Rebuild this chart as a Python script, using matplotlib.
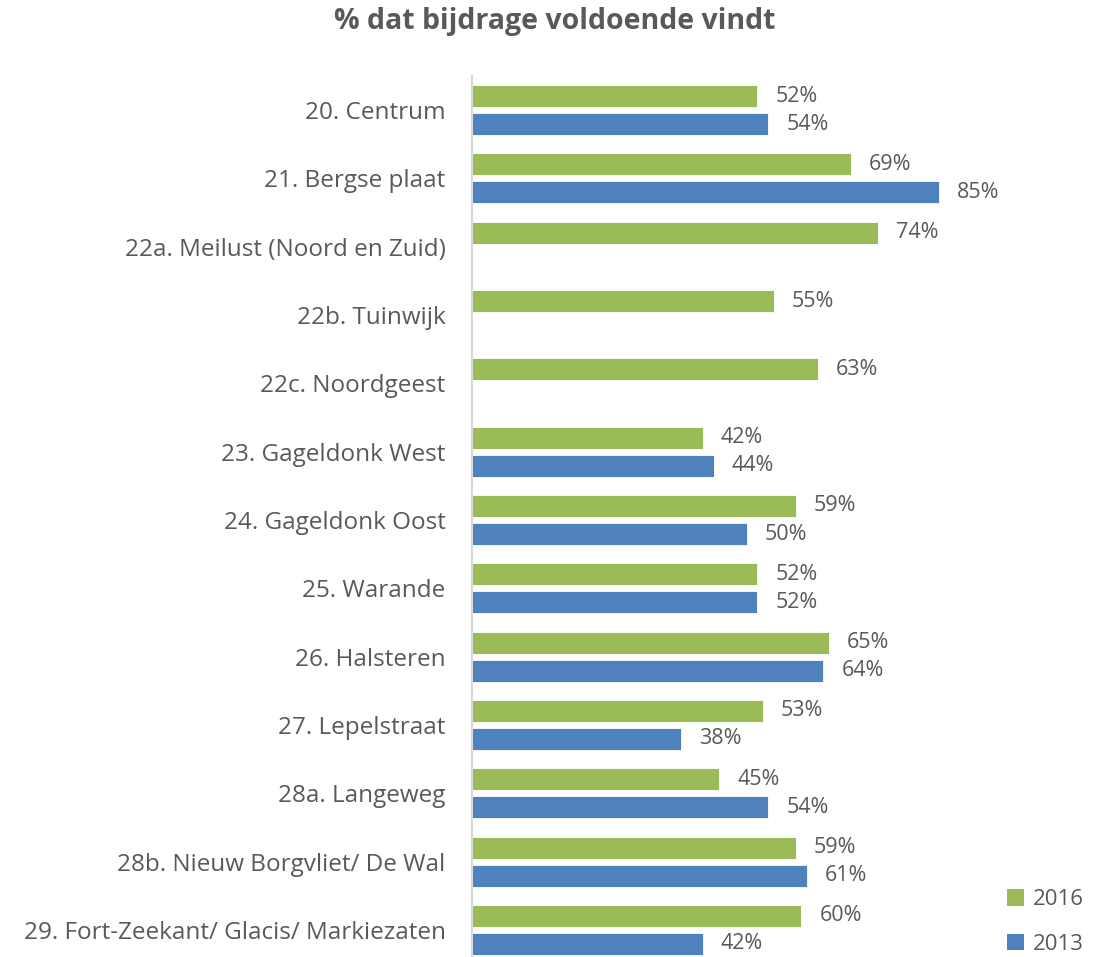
import matplotlib
matplotlib.use("Agg")
import matplotlib.pyplot as plt
import numpy as np
from matplotlib.patches import Patch

categories = [
    "20. Centrum",
    "21. Bergse plaat",
    "22a. Meilust (Noord en Zuid)",
    "22b. Tuinwijk",
    "22c. Noordgeest",
    "23. Gageldonk West",
    "24. Gageldonk Oost",
    "25. Warande",
    "26. Halsteren",
    "27. Lepelstraat",
    "28a. Langeweg",
    "28b. Nieuw Borgvliet/ De Wal",
    "29. Fort-Zeekant/ Glacis/ Markiezaten",
]
values_2016 = [52, 69, 74, 55, 63, 42, 59, 52, 65, 53, 45, 59, 60]
values_2013 = [54, 85, None, None, None, 44, 50, 52, 64, 38, 54, 61, 42]

GREEN = "#9BBB59"
BLUE = "#4F81BD"
TEXT = "#595959"
FONT = ["Open Sans", "DejaVu Sans"]

plt.rcParams["font.family"] = FONT

fig = plt.figure(figsize=(10.95, 9.57), dpi=100)
W, H = 1095, 957
top_px, bottom_px = 76, 964
left_px = 472
ax = fig.add_axes([left_px / W, 1 - bottom_px / H, 549 / W, (bottom_px - top_px) / H])

n = len(categories)
y = np.arange(n)
off = 0.205
h = 0.322

for i in range(n):
    v16 = values_2016[i]
    v13 = values_2013[i]
    if v16 is not None:
        ax.barh(y[i] - off, v16 / 100, height=h, color=GREEN, edgecolor="white", linewidth=0.6)
        ax.annotate(f"{v16}%", (v16 / 100, y[i] - off), xytext=(13, 0), textcoords="offset points",
                    va="center", ha="left", fontsize=15.5, color=TEXT)
    if v13 is not None:
        ax.barh(y[i] + off, v13 / 100, height=h, color=BLUE, edgecolor="white", linewidth=0.6)
        ax.annotate(f"{v13}%", (v13 / 100, y[i] + off), xytext=(13, 0), textcoords="offset points",
                    va="center", ha="left", fontsize=15.5, color=TEXT)

ax.set_xlim(0, 1)
ax.set_ylim(n - 0.5, -0.5)
ax.set_yticks(y)
ax.set_yticklabels(categories, fontsize=17.5, color=TEXT)
ax.tick_params(axis="y", length=0, pad=19)
ax.set_xticks([])
for s in ["top", "right", "bottom"]:
    ax.spines[s].set_visible(False)
ax.spines["left"].set_color("#D9D9D9")
ax.spines["left"].set_linewidth(1.5)

fig.text(555 / W, 1 - 22 / H, "% dat bijdrage voldoende vindt", ha="center", va="center",
         fontsize=20.5, fontweight="bold", color=TEXT)

handles = [Patch(facecolor=GREEN, label="2016"), Patch(facecolor=BLUE, label="2013")]
fig.legend(handles=handles, loc="center left", bbox_to_anchor=(1007 / W, 1 - 922 / H), frameon=False,
           fontsize=16, labelcolor=TEXT, handlelength=0.78, handleheight=0.78,
           handletextpad=0.4, labelspacing=1.05, borderpad=0, borderaxespad=0)

fig.savefig("out.png", dpi=100)
